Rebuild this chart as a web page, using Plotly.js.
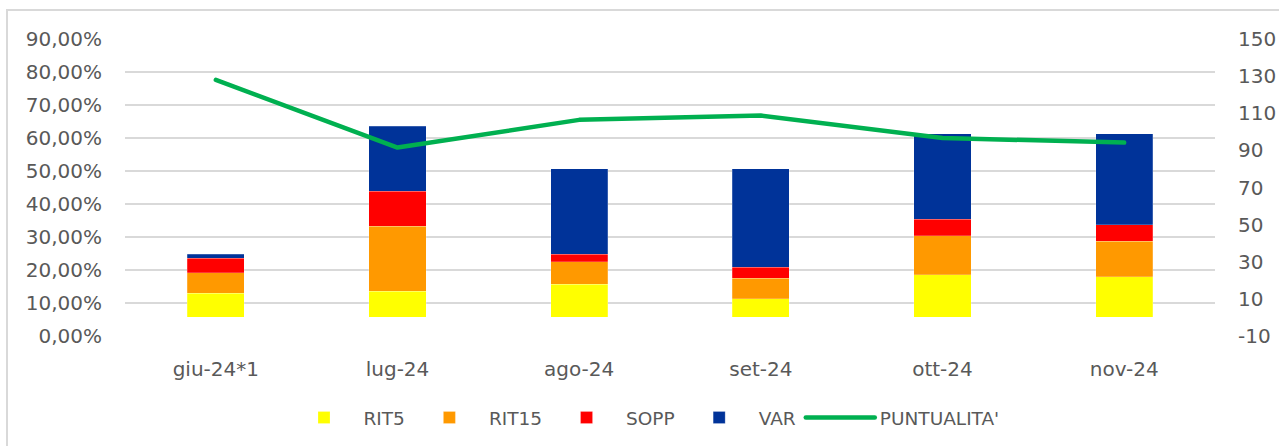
<!DOCTYPE html>
<html>
<head>
<meta charset="utf-8">
<script src="https://cdn.plot.ly/plotly-3.0.1.min.js"></script>
<style>
html,body{margin:0;padding:0;background:#fff;overflow:hidden;}
#frame{position:absolute;left:6px;top:9px;width:1290px;height:460px;border:2px solid #d9d9d9;box-sizing:border-box;}
#chart{position:absolute;left:0;top:0;width:1279px;height:446px;}
#chart .scatterlayer .js-line, #chart .legend .js-line{stroke-linecap:round;stroke-linejoin:round;}
</style>
</head>
<body>
<div id="frame"></div>
<div id="chart"></div>
<script>
const categories = ["giu-24*1", "lug-24", "ago-24", "set-24", "ott-24", "nov-24"];
const rit5  = [13, 14, 18, 10, 23, 22];
const rit15 = [11, 35, 12, 11, 21, 19];
const sopp  = [8, 19, 4, 6, 9, 9];
const varr  = [2, 35, 46, 53, 46, 49];
const puntualita = [0.776, 0.571, 0.655, 0.668, 0.600, 0.586];
const rightTicks = [-10, 10, 30, 50, 70, 90, 110, 130, 150];
const rightTickLabels = ["-10", "10", "30", "50", "70", "90", "110", "130", "150"];

const textColor = '#595959';
const fontFam = '"DejaVu Sans", "Liberation Sans", sans-serif';
const fs = 20;
const legendFs = 18.5;

function barTrace(name, vals, color) {
  return {
    type: 'bar', name: name, x: categories, y: vals, yaxis: 'y',
    marker: {color: color, line: {width: 0.6, color: 'rgba(255,255,255,0.35)'}},
    hoverinfo: 'x+y+name'
  };
}

const data = [
  barTrace('RIT5', rit5, '#FFFF00'),
  barTrace('RIT15', rit15, '#FF9900'),
  barTrace('SOPP', sopp, '#FF0000'),
  barTrace('VAR', varr, '#003399'),
  {
    type: 'scatter', mode: 'lines', name: "PUNTUALITA'", x: categories, y: puntualita,
    yaxis: 'y2', line: {color: '#00B050', width: 4.5}
  }
];

const layout = {
  width: 1279, height: 446,
  margin: {l: 125, r: 64, t: 39, b: 110, pad: 0},
  paper_bgcolor: 'rgba(0,0,0,0)', plot_bgcolor: 'rgba(0,0,0,0)',
  separators: ',.',
  font: {family: fontFam, size: fs, color: textColor},
  barmode: 'stack',
  bargap: 0.686,
  showlegend: true,
  legend: {
    orientation: 'h', x: 0.5 + 5 / 1279, xanchor: 'center', xref: 'container',
    y: 1 - 418 / 446, yanchor: 'middle', yref: 'container',
    font: {family: fontFam, size: legendFs, color: textColor},
    traceorder: 'normal', itemwidth: 69
  },
  xaxis: {
    type: 'category', showgrid: false, zeroline: false, showline: false,
    ticks: '', ticklabelstandoff: 19,
    tickfont: {family: fontFam, size: fs, color: textColor}
  },
  yaxis: {
    side: 'right', range: [-10, 150], tickvals: rightTicks, ticktext: rightTickLabels,
    showgrid: false, zeroline: false, showline: false, ticks: '',
    ticklabelstandoff: 22,
    tickfont: {family: fontFam, size: fs, color: textColor}
  },
  yaxis2: {
    overlaying: 'y', side: 'left', range: [0, 0.9], tick0: 0, dtick: 0.1,
    tickformat: '.2%', showgrid: true, gridcolor: '#d9d9d9', gridwidth: 1.5,
    zeroline: false, showline: false, ticks: '', ticklabelstandoff: 22,
    tickfont: {family: fontFam, size: fs, color: textColor}
  }
};

Plotly.newPlot('chart', data, layout, {displayModeBar: false, staticPlot: true});
</script>
</body>
</html>
